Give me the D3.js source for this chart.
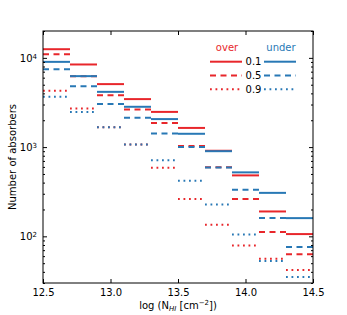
<!DOCTYPE html>
<html>
<head>
<meta charset="utf-8">
<script src="https://cdn.jsdelivr.net/npm/d3@7"></script>
<style>
  body { margin: 0; background: #fff; }
  text { font-family: "DejaVu Sans", sans-serif; }
</style>
</head>
<body>
<div id="vis"></div>
<script>
// bin left edges in log N_HI, each bin is 0.2 wide
var binEdges = [12.5, 12.7, 12.9, 13.1, 13.3, 13.5, 13.7, 13.9, 14.1, 14.3];
var binWidth = 0.2;

var over10 = [12500, 8430, 5080, 3450, 2480, 1640, 910, 482, 190, 106];
var over50 = [11000, 6240, 3800, 2640, 1860, 1030, 593, 262, 112, 63];
var over90 = [4270, 2710, 1670, 1070, 586, 262, 135, 79, 56, 42];
var under10 = [9020, 6240, 4160, 2830, 2060, 1410, 900, 521, 307, 160];
var under50 = [7470, 4820, 3050, 2130, 1420, 1000, 590, 333, 160, 76];
var under90 = [3660, 2470, 1670, 1070, 714, 420, 228, 105, 53, 35];

var xTicks = [12.5, 13.0, 13.5, 14.0, 14.5];
var yMajor = [100, 1000, 10000];
var legendLabels = ["0.1", "0.5", "0.9"];

var width = 347;
var height = 315;
var margin = {top: 31, left: 43, right: 34, bottom: 32};

var red = "#e8262b";
var blue = "#2878b5";
var dashes = ["none", "6,4.5", "1.8,3.7"];

var svg = d3.select("#vis")
    .append("svg")
    .attr("width", width)
    .attr("height", height);

var w = width - margin.left - margin.right;
var h = height - margin.top - margin.bottom;

var g = svg.append("g")
    .attr("transform", "translate(" + margin.left + "," + margin.top + ")");

var xscale = d3.scaleLinear().domain([12.5, 14.5]).range([0, w]);
var yscale = d3.scaleLog().domain([30, 20000]).range([h, 0]);

// series, red drawn first so blue sits on top
var series = [
    {vals: over10, color: red, dash: dashes[0]},
    {vals: over50, color: red, dash: dashes[1]},
    {vals: over90, color: red, dash: dashes[2]},
    {vals: under10, color: blue, dash: dashes[0]},
    {vals: under50, color: blue, dash: dashes[1]},
    {vals: under90, color: blue, dash: dashes[2]}
];

series.forEach(function (s) {
    g.append("g").selectAll("line")
        .data(s.vals)
        .enter()
        .append("line")
        .attr("x1", function (d, i) { return xscale(binEdges[i]); })
        .attr("x2", function (d, i) { return xscale(binEdges[i] + binWidth); })
        .attr("y1", function (d) { return yscale(d); })
        .attr("y2", function (d) { return yscale(d); })
        .attr("stroke", s.color)
        .attr("stroke-width", 2)
        .attr("stroke-dasharray", s.dash);
});

// minor log ticks
var yMinor = [];
[10, 100, 1000, 10000].forEach(function (dec) {
    for (var k = 2; k <= 9; k++) {
        var v = dec * k;
        if (v >= 30 && v <= 20000) yMinor.push(v);
    }
});

// axes, ticks pointing inward
g.append("g")
    .attr("transform", "translate(0," + h + ")")
    .call(d3.axisBottom(xscale).tickValues(xTicks).tickSize(-4).tickSizeOuter(0).tickPadding(6)
        .tickFormat(d3.format(".1f")));

g.append("g")
    .call(d3.axisTop(xscale).tickValues(xTicks).tickSize(-4).tickSizeOuter(0).tickFormat(""));

var yaxis = g.append("g")
    .call(d3.axisLeft(yscale).tickValues(yMajor).tickSize(-4).tickSizeOuter(0).tickPadding(6)
        .tickFormat(""));

yaxis.selectAll(".tick text")
    .each(function (d) {
        var t = d3.select(this).attr("dy", "0.35em");
        t.append("tspan").text("10");
        t.append("tspan").attr("dy", "-0.45em").attr("font-size", "7px")
            .text(Math.round(Math.log10(d)));
    });

g.append("g")
    .call(d3.axisLeft(yscale).tickValues(yMinor).tickSize(-2).tickSizeOuter(0).tickFormat(""));

g.append("g")
    .attr("transform", "translate(" + w + ",0)")
    .call(d3.axisRight(yscale).tickValues(yMajor).tickSize(-4).tickSizeOuter(0).tickFormat(""));

g.append("g")
    .attr("transform", "translate(" + w + ",0)")
    .call(d3.axisRight(yscale).tickValues(yMinor).tickSize(-2).tickSizeOuter(0).tickFormat(""));

g.selectAll(".domain").remove();
g.selectAll(".tick text").attr("font-size", "10px").attr("fill", "#000")
    .attr("font-family", "DejaVu Sans");
g.selectAll(".tick line").attr("stroke", "#000");

g.append("rect")
    .attr("width", w)
    .attr("height", h)
    .attr("fill", "none")
    .attr("stroke", "#000")
    .attr("stroke-width", 1);

// axis labels
var xl = svg.append("text")
    .attr("x", margin.left + w / 2)
    .attr("y", 309)
    .attr("text-anchor", "middle")
    .attr("font-size", "10px");
xl.append("tspan").text("log (N");
xl.append("tspan").attr("dy", "2").attr("font-size", "7px").attr("font-style", "italic").text("HI");
xl.append("tspan").attr("dy", "-2").text(" [cm");
xl.append("tspan").attr("dy", "-4").attr("font-size", "7px").text("\u22122");
xl.append("tspan").attr("dy", "4").text("])");

svg.append("text")
    .attr("transform", "translate(16," + (margin.top + h / 2) + ") rotate(-90)")
    .attr("text-anchor", "middle")
    .attr("font-size", "10px")
    .text("Number of absorbers");

// legend
var leg = svg.append("g");
leg.append("text").attr("x", 227).attr("y", 51).attr("text-anchor", "middle")
    .attr("font-size", "10px").attr("fill", red).text("over");
leg.append("text").attr("x", 281).attr("y", 51).attr("text-anchor", "middle")
    .attr("font-size", "10px").attr("fill", blue).text("under");

legendLabels.forEach(function (lab, i) {
    var yy = 61.7 + i * 13.8;
    leg.append("line").attr("x1", 210).attr("x2", 242).attr("y1", yy).attr("y2", yy)
        .attr("stroke", red).attr("stroke-width", 2).attr("stroke-dasharray", dashes[i]);
    leg.append("text").attr("x", 253.5).attr("y", yy + 3.6).attr("text-anchor", "middle")
        .attr("font-size", "10px").text(lab);
    leg.append("line").attr("x1", 264).attr("x2", 296).attr("y1", yy).attr("y2", yy)
        .attr("stroke", blue).attr("stroke-width", 2).attr("stroke-dasharray", dashes[i]);
});
</script>
</body>
</html>
